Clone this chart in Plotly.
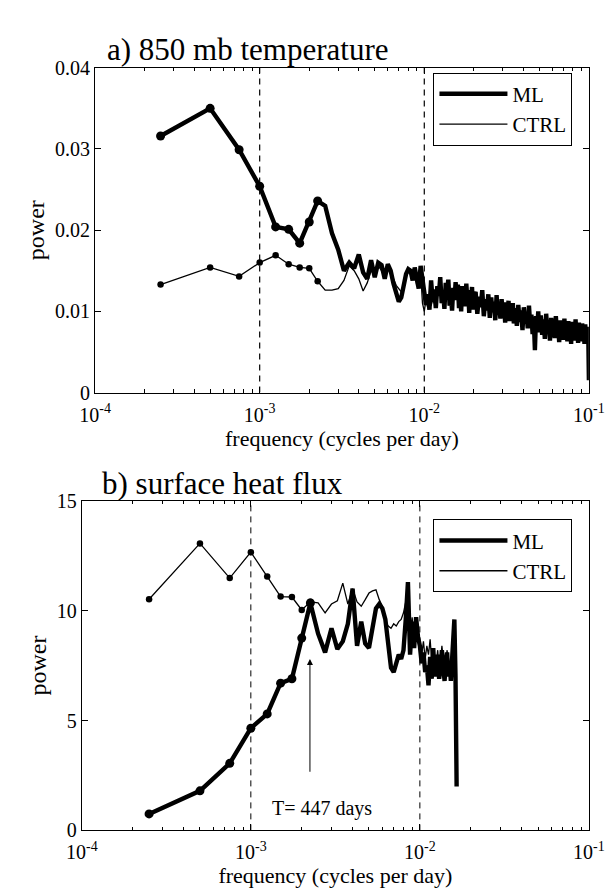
import math
import plotly.graph_objects as go

# ---------------- data ----------------
RECORD_DAYS = 4000  # frequencies are harmonics k / 4000 cycles per day
N_DOTS = 9          # low-frequency harmonics drawn with dots

# panel a) 850 mb temperature -- ML run
harm_a_ml = (list(range(1, 81)) + list(range(82, 141, 2)) + list(range(143, 201, 3))
             + list(range(204, 397, 4)) + [400])
ml_a_low = [  # k = 1..40
    0.0316, 0.0350, 0.0299, 0.0254, 0.0204, 0.0201, 0.0184, 0.0210, 0.0236, 0.0230,
    0.0196, 0.0176, 0.0150, 0.0160, 0.0153, 0.0170, 0.0148, 0.0140, 0.0163, 0.0142,
    0.0160, 0.0157, 0.0140, 0.0158, 0.0150, 0.0134, 0.0120, 0.0112, 0.0117, 0.0132,
    0.0146, 0.0152, 0.0150, 0.0138, 0.0154, 0.0140, 0.0128, 0.0156, 0.0142, 0.0124,
]
ml_a_seg1 = [  # k = 41..80
    0.0108, 0.0121, 0.0102, 0.0138, 0.0112, 0.0127, 0.0104, 0.0131, 0.0119, 0.0142,
    0.0110, 0.0124, 0.0103, 0.0135, 0.0126, 0.0139, 0.0107, 0.0120, 0.0101, 0.0129,
    0.0114, 0.0136, 0.0118, 0.0133, 0.0104, 0.0125, 0.0100, 0.0131, 0.0113, 0.0128,
    0.0106, 0.0134, 0.0115, 0.0123, 0.0098, 0.0126, 0.0111, 0.0130, 0.0102, 0.0119,
]
ml_a_seg2 = [  # k = 82..140 step 2
    0.0124, 0.0097, 0.0118, 0.0105, 0.0126, 0.0094, 0.0115, 0.0101, 0.0121, 0.0092,
    0.0117, 0.0099, 0.0112, 0.0089, 0.0120, 0.0096, 0.0108, 0.0091, 0.0115, 0.0098,
    0.0111, 0.0086, 0.0109, 0.0094, 0.0113, 0.0088, 0.0106, 0.0093, 0.0110, 0.0085,
]
ml_a_seg3 = [  # k = 143..200 step 3
    0.0104, 0.0082, 0.0108, 0.0087, 0.0101, 0.0077, 0.0105, 0.0085, 0.0099, 0.0079,
    0.0107, 0.0083, 0.0096, 0.0072, 0.0090, 0.0052, 0.0094, 0.0078, 0.0100, 0.0074,
]
ml_a_seg4 = [  # k = 204..396 step 4, then k = 400
    0.0095, 0.0071, 0.0090, 0.0066, 0.0097, 0.0075, 0.0088, 0.0064, 0.0092, 0.0070,
    0.0086, 0.0067, 0.0094, 0.0073, 0.0085, 0.0062, 0.0089, 0.0074, 0.0083, 0.0065,
    0.0091, 0.0069, 0.0084, 0.0063, 0.0088, 0.0071, 0.0082, 0.0060, 0.0087, 0.0068,
    0.0083, 0.0064, 0.0090, 0.0070, 0.0081, 0.0061, 0.0086, 0.0067, 0.0082, 0.0063,
    0.0085, 0.0069, 0.0080, 0.0060, 0.0084, 0.0066, 0.0079, 0.0062, 0.0081,
    0.0015,
]
ml_a = ml_a_low + ml_a_seg1 + ml_a_seg2 + ml_a_seg3 + ml_a_seg4

# panel a) -- CTRL run
harm_a_ctrl = list(range(1, 47))
ctrl_a = [
    0.0133, 0.0154, 0.0143, 0.0160, 0.0169, 0.0158, 0.0154, 0.0153, 0.0137, 0.0126,
    0.0126, 0.0128, 0.0138, 0.0156, 0.0150, 0.0140, 0.0125, 0.0135, 0.0150, 0.0144,
    0.0156, 0.0150, 0.0142, 0.0155, 0.0145, 0.0140, 0.0132, 0.0128, 0.0124, 0.0133,
    0.0145, 0.0150, 0.0152, 0.0146, 0.0150, 0.0132, 0.0140, 0.0148, 0.0110, 0.0100,
    0.0115, 0.0104, 0.0112, 0.0107, 0.0114, 0.0110,
]

# panel b) surface heat flux
harm_b_ml = list(range(1, 67))
ml_b = [
    0.75, 1.80, 3.05, 4.65, 5.30, 6.70, 6.90, 8.75, 10.35, 8.95,
    8.10, 9.20, 8.25, 8.60, 9.40, 11.00, 8.40, 9.50, 8.50, 8.30,
    9.20, 10.10, 10.30, 10.10, 9.60, 8.50, 7.40, 7.20, 7.60, 8.00,
    7.80, 8.20, 9.60, 11.30, 8.00, 9.50, 8.30, 9.70, 8.80, 8.40,
    7.60, 8.10, 7.20, 7.50, 6.60, 7.90, 6.90, 8.30, 7.00, 7.40,
    8.00, 6.90, 7.30, 8.20, 7.40, 6.80, 7.60, 8.10, 7.00, 7.60,
    6.80, 7.80, 8.50, 9.60, 7.00, 2.00,
]
harm_b_ctrl = list(range(1, 64))
ctrl_b = [
    10.52, 13.06, 11.48, 12.66, 11.55, 10.64, 10.62, 10.03, 10.40, 10.35,
    9.90, 10.30, 10.45, 11.25, 10.30, 11.00, 10.40, 10.20, 10.50, 10.80,
    10.90, 10.95, 10.50, 10.20, 9.50, 9.30, 9.20, 9.40, 9.30, 9.50,
    9.60, 9.90, 10.40, 11.20, 9.00, 9.70, 8.60, 9.50, 8.80, 8.40,
    8.00, 8.60, 7.80, 8.40, 8.00, 8.70, 7.70, 8.30, 7.40, 7.60,
    8.20, 7.30, 7.60, 8.40, 7.60, 7.20, 7.80, 8.20, 7.30, 7.70,
    7.10, 7.90, 8.40,
]

decade_ticks = [1e-4, 1e-3, 1e-2, 1e-1]
decade_text = ["10<sup>-4</sup>", "10<sup>-3</sup>", "10<sup>-2</sup>", "10<sup>-1</sup>"]
minor_mantissas = [2, 3, 4, 5, 6, 7, 8, 9]
dashed_freqs = [1e-3, 1e-2]
arrow_period_days = 447

ytick_a = [0, 0.01, 0.02, 0.03, 0.04]
ytick_a_text = ["0", "0.01", "0.02", "0.03", "0.04"]
ytick_b = [0, 5, 10, 15]

# ---------------- figure ----------------
FONT = "Liberation Serif, Times New Roman, serif"
W, H = 613, 888


def freqs(h):
    return [k / RECORD_DAYS for k in h]


minor_ticks = [m * d for d in decade_ticks[:-1] for m in minor_mantissas]

fig = go.Figure()

panels = [
    dict(xa="x", ya="y", leg="legend", hml=harm_a_ml, ml=ml_a, hct=harm_a_ctrl, ct=ctrl_a, ymax=0.04, dw=1.2),
    dict(xa="x2", ya="y2", leg="legend2", hml=harm_b_ml, ml=ml_b, hct=harm_b_ctrl, ct=ctrl_b, ymax=15, dw=1.0),
]

for p in panels:
    for f0 in dashed_freqs:
        fig.add_trace(go.Scatter(x=[f0, f0], y=[0, p["ymax"]], mode="lines",
                                 line=dict(color="black", width=p["dw"], dash="6px,5px"),
                                 xaxis=p["xa"], yaxis=p["ya"], showlegend=False, hoverinfo="skip"))
    fig.add_trace(go.Scatter(x=freqs(p["hml"]), y=p["ml"], mode="lines", name="ML",
                             line=dict(color="black", width=4.4),
                             xaxis=p["xa"], yaxis=p["ya"], legend=p["leg"]))
    fig.add_trace(go.Scatter(x=freqs(p["hct"]), y=p["ct"], mode="lines", name="CTRL",
                             line=dict(color="black", width=1.3),
                             xaxis=p["xa"], yaxis=p["ya"], legend=p["leg"]))
    fig.add_trace(go.Scatter(x=freqs(p["hml"][:N_DOTS]), y=p["ml"][:N_DOTS], mode="markers",
                             marker=dict(color="black", size=9),
                             xaxis=p["xa"], yaxis=p["ya"], showlegend=False))
    fig.add_trace(go.Scatter(x=freqs(p["hct"][:N_DOTS]), y=p["ct"][:N_DOTS], mode="markers",
                             marker=dict(color="black", size=6.5),
                             xaxis=p["xa"], yaxis=p["ya"], showlegend=False))

axis_common = dict(showline=True, linecolor="black", linewidth=1, mirror="ticks",
                   ticks="inside", ticklen=6, tickcolor="black", tickwidth=1,
                   showgrid=False, zeroline=False,
                   tickfont=dict(family=FONT, size=20, color="black"))
xcommon = dict(axis_common, type="log", range=[-4, -1], tickvals=decade_ticks, ticktext=decade_text,
               ticklabelstandoff=4,
               minor=dict(ticks="inside", ticklen=3.5, tickcolor="black", showgrid=False,
                          tickmode="array", tickvals=minor_ticks),
               title=dict(text="frequency (cycles per day)", font=dict(family=FONT, size=22, color="black"),
                          standoff=2))
ytitle = dict(text="power", font=dict(family=FONT, size=24, color="black"), standoff=3)

legend_common = dict(xanchor="left", yanchor="top", bordercolor="black", borderwidth=1, bgcolor="white",
                     font=dict(family=FONT, size=21, color="black"), itemwidth=68, tracegroupgap=0)

fig.update_layout(
    width=W, height=H, margin=dict(l=0, r=0, t=0, b=0),
    paper_bgcolor="white", plot_bgcolor="white",
    font=dict(family=FONT, color="black"),
    xaxis=dict(xcommon, domain=[75 / W, 596 / W], anchor="y"),
    yaxis=dict(axis_common, domain=[1 - 383 / H, 1 - 50 / H], anchor="x", range=[0, 0.04],
               tickvals=ytick_a, ticktext=ytick_a_text, title=ytitle),
    xaxis2=dict(xcommon, domain=[61 / W, 596 / W], anchor="y2"),
    yaxis2=dict(axis_common, domain=[1 - 832 / H, 1 - 494 / H], anchor="x2", range=[0, 15],
                tickvals=ytick_b, title=ytitle),
    legend=dict(legend_common, x=432 / W, y=1 - 55 / H),
    legend2=dict(legend_common, x=432 / W, y=1 - 513 / H),
    showlegend=True,
)

fig.add_annotation(x=math.log10(1 / arrow_period_days), y=7.8, ax=math.log10(1 / arrow_period_days), ay=2.6,
                   xref="x2", yref="y2", axref="x2", ayref="y2", text="", showarrow=True,
                   arrowhead=2, arrowsize=1.2, arrowwidth=1, arrowcolor="black")
fig.add_annotation(x=-2.581, y=1.0, xref="x2", yref="y2", text=f"T= {arrow_period_days} days",
                   showarrow=False, font=dict(family=FONT, size=20, color="black"))

fig.add_annotation(x=85 / W, y=1 - 31 / H, xref="paper", yref="paper", xanchor="left", yanchor="middle",
                   text="a) 850 mb temperature", showarrow=False,
                   font=dict(family=FONT, size=31, color="black"))
fig.add_annotation(x=80 / W, y=1 - 476 / H, xref="paper", yref="paper", xanchor="left", yanchor="middle",
                   text="b) surface heat flux", showarrow=False,
                   font=dict(family=FONT, size=31, color="black"))

fig.write_html("out.html")
